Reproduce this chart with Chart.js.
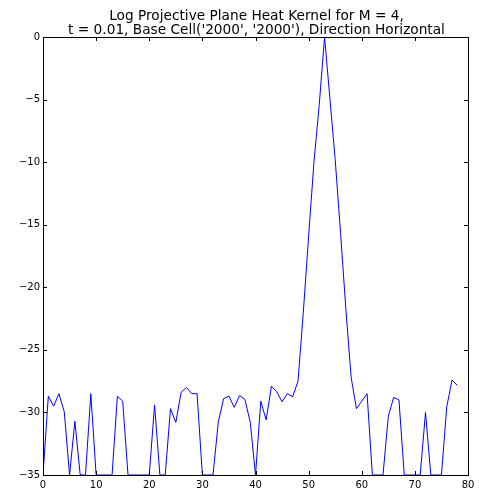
<!DOCTYPE html>
<html>
<head>
<meta charset="utf-8">
<script src="https://cdn.jsdelivr.net/npm/chart.js@4/dist/chart.umd.min.js"></script>
<style>
  html, body { margin: 0; padding: 0; background: #fff; }
  #wrap { width: 479px; height: 495px; }
</style>
</head>
<body>
<div id="wrap"><canvas id="myChart" width="479" height="495"></canvas></div>
<script>
// Title text, two lines like the original
const titleLines = [
  "Log Projective Plane Heat Kernel for M = 4,",
  "t = 0.01, Base Cell('2000', '2000'), Direction Horizontal",
];

// log heat kernel value per cell index 0..78 (floored at -35)
const logKernel = [
  -35, -28.7, -29.5, -28.5, -29.95, -35, -30.7, -35, -35, -28.5,
  -35, -35, -35, -35, -28.7, -29.1, -35, -35, -35, -35,
  -35, -29.4, -35, -35, -29.7, -30.8, -28.4, -28.0, -28.5, -28.5,
  -35, -35, -35, -30.75, -28.9, -28.7, -29.6, -28.65, -28.95, -30.75,
  -35, -29.1, -30.6, -27.9, -28.35, -29.15, -28.5, -28.75, -27.5, -22.0,
  -15.9, -10.0, -5.4, 0, -4.9, -9.8, -15.6, -21.7, -27.2, -29.7,
  -29.1, -28.5, -35, -35, -35, -30.3, -28.8, -29.0, -35, -35,
  -35, -35, -30.0, -35, -35, -35, -29.55, -27.4, -27.85,
];

const xTicks = [0, 10, 20, 30, 40, 50, 60, 70, 80];
const yTicks = [0, -5, -10, -15, -20, -25, -30, -35];

const tickFont = { family: "DejaVu Sans", size: 10 };

// matplotlib-ish frame: black box on top of the line, ticks pointing inward
const framePlugin = {
  id: "frame",
  afterDatasetsDraw(chart) {
    const { ctx, chartArea: a, scales } = chart;
    ctx.save();
    ctx.strokeStyle = "#000";
    ctx.lineWidth = 1;
    ctx.strokeRect(a.left + 0.5, a.top + 0.5, a.right - a.left, a.bottom - a.top);
    ctx.beginPath();
    xTicks.forEach((v) => {
      const px = Math.round(scales.x.getPixelForValue(v)) + 0.5;
      ctx.moveTo(px, a.bottom);
      ctx.lineTo(px, a.bottom - 4);
      ctx.moveTo(px, a.top);
      ctx.lineTo(px, a.top + 4);
    });
    yTicks.forEach((v) => {
      const py = Math.round(scales.y.getPixelForValue(v)) + 0.5;
      ctx.moveTo(a.left, py);
      ctx.lineTo(a.left + 4, py);
      ctx.moveTo(a.right, py);
      ctx.lineTo(a.right - 4, py);
    });
    ctx.stroke();
    ctx.restore();
  },
};

const titlePlugin = {
  id: "mplTitle",
  afterDraw(chart) {
    const { ctx, chartArea: a } = chart;
    const cx = (a.left + a.right) / 2 + 1;
    ctx.save();
    ctx.fillStyle = "#000";
    ctx.font = '13.7px "DejaVu Sans"';
    ctx.textBaseline = "alphabetic";
    ctx.textAlign = "center";
    ctx.fillText(titleLines[0], cx, 20);
    ctx.fillText(titleLines[1], cx, 33.5);
    ctx.restore();
  },
};

new Chart(document.getElementById("myChart"), {
  type: "line",
  data: {
    datasets: [
      {
        data: logKernel.map((v, i) => ({ x: i, y: v })),
        borderColor: "#0000ff",
        borderWidth: 1,
        pointRadius: 0,
        tension: 0,
        fill: false,
      },
    ],
  },
  options: {
    responsive: false,
    devicePixelRatio: 1,
    animation: false,
    layout: { padding: { top: 37, right: 11, left: 0, bottom: 0 } },
    plugins: { legend: { display: false }, tooltip: { enabled: false } },
    scales: {
      x: {
        type: "linear",
        min: 0,
        max: 80,
        afterBuildTicks: (s) => { s.ticks = xTicks.map((v) => ({ value: v })); },
        afterFit: (s) => { s.height = 20; },
        grid: { display: false, drawTicks: false },
        border: { display: false },
        ticks: { color: "#000", font: tickFont, padding: 4, maxRotation: 0, autoSkip: false },
      },
      y: {
        min: -35,
        max: 0,
        afterBuildTicks: (s) => { s.ticks = yTicks.map((v) => ({ value: v })); },
        afterFit: (s) => { s.width = 43; },
        grid: { display: false, drawTicks: false },
        border: { display: false },
        ticks: {
          color: "#000",
          font: tickFont,
          padding: 3,
          autoSkip: false,
          callback: (v) => String(v).replace("-", "\u2212"),
        },
      },
    },
  },
  plugins: [framePlugin, titlePlugin],
});
</script>
</body>
</html>
